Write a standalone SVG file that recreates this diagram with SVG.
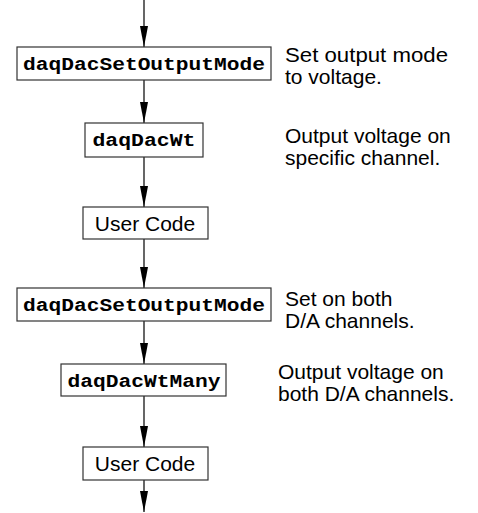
<svg xmlns="http://www.w3.org/2000/svg" width="478" height="513" viewBox="0 0 478 513">
  <style>
    .box { fill: #ffffff; stroke: #333333; stroke-width: 1.2; }
    .fn { font-family: "Courier New", "Liberation Mono", monospace; font-weight: bold; font-size: 18px; fill: #000000; text-anchor: middle; }
    .lbl { font-family: "Liberation Sans", Arial, sans-serif; font-size: 21px; fill: #000000; text-anchor: middle; }
    .note { font-family: "Liberation Sans", Arial, sans-serif; font-size: 21px; fill: #000000; }
    .flow { stroke: #000000; stroke-width: 1.2; fill: none; marker-end: url(#arrow); }
  </style>
  <defs>
    <!-- long narrow arrowhead, tip at the end of the line -->
    <marker id="arrow" markerUnits="userSpaceOnUse" markerWidth="21" markerHeight="8" refX="21" refY="4" orient="auto" viewBox="0 0 21 8">
      <path d="M0,0 L21,4 L0,8 Z" fill="#000000"/>
    </marker>
  </defs>

  <!-- connectors along the centre line -->
  <g id="connectors">
    <line class="flow" x1="144" y1="0" x2="144" y2="47"/>
    <line class="flow" x1="144" y1="80" x2="144" y2="123"/>
    <line class="flow" x1="144" y1="157" x2="144" y2="207"/>
    <line class="flow" x1="144" y1="239" x2="144" y2="288"/>
    <line class="flow" x1="144" y1="321" x2="144" y2="364"/>
    <line class="flow" x1="144" y1="396" x2="144" y2="447"/>
    <line class="flow" x1="144" y1="480" x2="144" y2="512"/>
  </g>

  <g id="set-mode-voltage">
    <rect class="box" x="17" y="47" width="254" height="33"/>
    <text class="fn" x="144" y="70" textLength="242" lengthAdjust="spacingAndGlyphs">daqDacSetOutputMode</text>
  </g>
  <g id="note-set-mode-voltage">
    <text class="note" x="285" y="62" textLength="163" lengthAdjust="spacingAndGlyphs">Set output mode</text>
    <text class="note" x="285" y="84">to voltage.</text>
  </g>

  <g id="dac-write">
    <rect class="box" x="85" y="123" width="118" height="34"/>
    <text class="fn" x="144" y="146" textLength="103" lengthAdjust="spacingAndGlyphs">daqDacWt</text>
  </g>
  <g id="note-dac-write">
    <text class="note" x="285" y="143">Output voltage on</text>
    <text class="note" x="285" y="165">specific channel.</text>
  </g>

  <g id="user-code-1">
    <rect class="box" x="83" y="207" width="125" height="32"/>
    <text class="lbl" x="145" y="231">User Code</text>
  </g>

  <g id="set-mode-both">
    <rect class="box" x="17" y="288" width="254" height="33"/>
    <text class="fn" x="144" y="311" textLength="242" lengthAdjust="spacingAndGlyphs">daqDacSetOutputMode</text>
  </g>
  <g id="note-set-mode-both">
    <text class="note" x="285" y="306">Set on both</text>
    <text class="note" x="285" y="328">D/A channels.</text>
  </g>

  <g id="dac-write-many">
    <rect class="box" x="61" y="364" width="165" height="32"/>
    <text class="fn" x="144" y="387" textLength="153" lengthAdjust="spacingAndGlyphs">daqDacWtMany</text>
  </g>
  <g id="note-dac-write-many">
    <text class="note" x="278" y="379">Output voltage on</text>
    <text class="note" x="278" y="401">both D/A channels.</text>
  </g>

  <g id="user-code-2">
    <rect class="box" x="83" y="447" width="125" height="33"/>
    <text class="lbl" x="145" y="471">User Code</text>
  </g>
</svg>
